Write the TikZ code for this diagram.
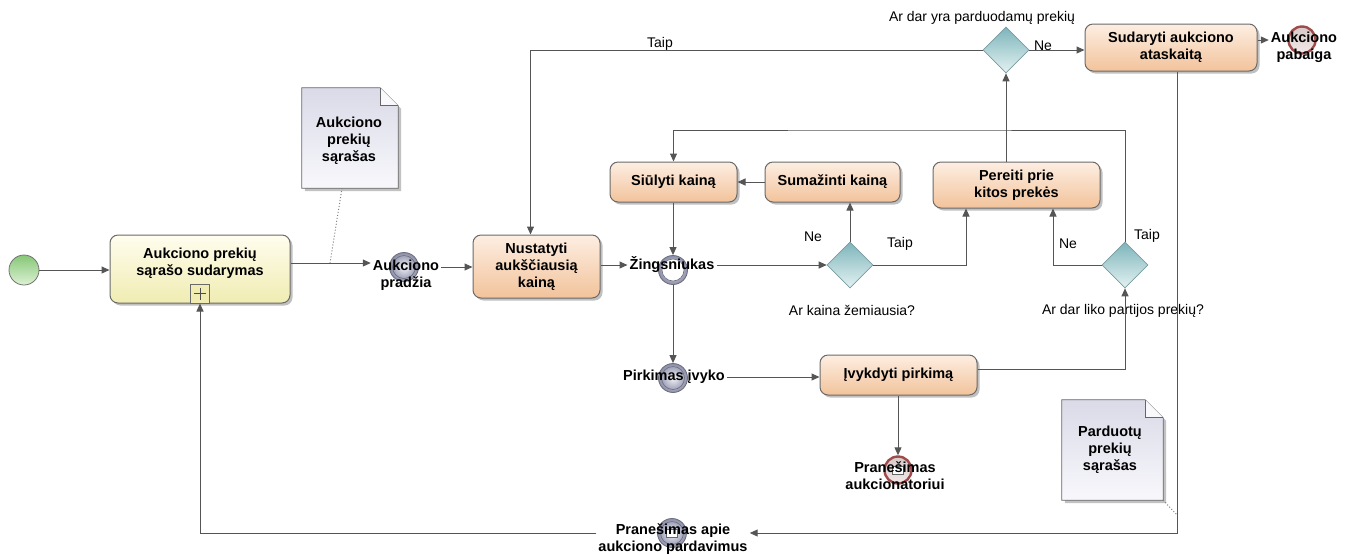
\documentclass[tikz,border=0pt]{standalone}
\usepackage{fontspec}
\setmainfont{Liberation Sans}
\usetikzlibrary{shapes.geometric,shadows,arrows.meta}

\definecolor{edge}{HTML}{555555}
\definecolor{taskborder}{HTML}{6A6A6A}
\definecolor{tasktop}{HTML}{FDEEE2}
\definecolor{taskbot}{HTML}{F2C39B}
\definecolor{subtop}{HTML}{FFFDEE}
\definecolor{subbot}{HTML}{F0ECB2}
\definecolor{gwtop}{HTML}{7DB5BB}
\definecolor{gwbot}{HTML}{E4F2F2}
\definecolor{gwborder}{HTML}{7A9A9E}
\definecolor{evtin}{HTML}{F2F2F8}
\definecolor{evtout}{HTML}{8A8EA8}
\definecolor{evtborder}{HTML}{6C6C7C}
\definecolor{endborder}{HTML}{A04B4B}
\definecolor{endtop}{HTML}{D9C9C9}
\definecolor{endbot}{HTML}{F2E8E8}
\definecolor{starttop}{HTML}{86C777}
\definecolor{startbot}{HTML}{DDF1D4}
\definecolor{notetop}{HTML}{DADAE8}
\definecolor{notebot}{HTML}{F8F8FC}

% folded-corner outline of a note node
\newcommand\notepath[1]{(#1.north west) -- ([xshift=-18pt]#1.north east)
  -- ([yshift=-18pt]#1.north east) -- (#1.south east) -- (#1.south west) -- cycle}
\newcommand\notefold[1]{([xshift=-18pt]#1.north east) -- ([xshift=-18pt,yshift=-18pt]#1.north east)
  -- ([yshift=-18pt]#1.north east)}

\begin{document}
\begin{tikzpicture}[x=1pt,y=-1pt,
  boldtext/.style={font=\fontsize{14.5}{17}\selectfont\bfseries},
  task/.style={rectangle, rounded corners=8pt, draw=taskborder, line width=1pt,
    top color=tasktop, bottom color=taskbot, boldtext, align=center, inner sep=0pt,
    drop shadow={shadow xshift=2.5pt, shadow yshift=-2.5pt, fill=black!45, opacity=0.55}},
  subtask/.style={task, top color=subtop, bottom color=subbot},
  gateway/.style={diamond, aspect=1, inner sep=0pt, minimum width=46pt, minimum height=46pt,
    draw=gwborder, line width=0.6pt, top color=gwtop, bottom color=gwbot},
  startev/.style={circle, inner sep=0pt, minimum size=30pt, draw=black!55, line width=0.8pt,
    top color=starttop, bottom color=startbot},
  midev/.style={circle, inner sep=0pt, minimum size=29pt, draw=evtborder, line width=0.8pt,
    inner color=evtin, outer color=evtout},
  endev/.style={circle, inner sep=0pt, minimum size=27pt, draw=endborder, line width=2.4pt,
    top color=endtop, bottom color=endbot},
  evlabel/.style={boldtext, align=center, inner sep=2pt},
  txt/.style={font=\fontsize{14}{16}\selectfont, inner sep=0pt},
  notebox/.style={rectangle, inner sep=0pt, boldtext, align=center},
  flow/.style={draw=edge, line width=1pt, -{Triangle[length=8pt,width=7pt]}},
  assoc/.style={draw=black!50, line width=1pt, dotted},
  notestyle/.style={draw=black!60, line width=0.8pt, top color=notetop, bottom color=notebot,
    drop shadow={shadow xshift=3pt, shadow yshift=-3pt, fill=black!40, opacity=0.6}}
]
\useasboundingbox (0,0) rectangle (1355,558);

% ---------- tasks ----------
\node[subtask, minimum width=180pt, minimum height=68pt] (t1) at (200,269) {};
\node[boldtext, align=center] (t1text) at (200,263) {Aukciono prekių\\sąrašo sudarymas};
\node[draw=taskborder, line width=0.8pt, fill=subbot, minimum size=19pt, inner sep=0pt,
      anchor=south] (plus) at (t1.south) {};
\draw[black!70, line width=0.9pt] ([yshift=-4pt]plus.north) -- ([yshift=4pt]plus.south)
      ([xshift=4pt]plus.west) -- ([xshift=-4pt]plus.east);

\node[task, minimum width=127pt, minimum height=63pt] (t2) at (536.5,266.5)
  {Nustatyti\\aukščiausią\\kainą};
\node[task, minimum width=127pt, minimum height=40pt] (siul) at (673.5,182) {Siūlyti kainą};
\node[task, minimum width=135pt, minimum height=40pt] (sumaz) at (832.5,182) {Sumažinti kainą};
\node[task, minimum width=167pt, minimum height=46pt] (pereiti) at (1016.5,185)
  {Pereiti prie\\kitos prekės};
\node[task, minimum width=172pt, minimum height=47pt] (sud) at (1171,47.5)
  {Sudaryti aukciono\\ataskaitą};
\node[task, minimum width=157pt, minimum height=40pt] (ivyk) at (898.5,375) {Įvykdyti pirkimą};

% ---------- gateways ----------
\node[gateway] (gw1) at (850,265) {};
\node[gateway] (gw2) at (1125,265) {};
\node[gateway] (gw3) at (1006,50) {};
\node[txt] (q1) at (852,310) {Ar kaina žemiausia?};
\node[txt] (q2) at (1123,311) {Ar dar liko partijos prekių?};
\node[txt] (q3) at (982,18) {Ar dar yra parduodamų prekių};

% ---------- events ----------
\node[startev] (start) at (24,270) {};

\node[midev] (prad) at (404,267) {};
\draw[evtborder, line width=0.6pt] (prad) circle (11.5pt);
\node[midev] (zing) at (673,270) {};
\node[circle, draw=evtborder, fill=white, line width=0.6pt, minimum size=22pt, inner sep=0pt]
  (zingclock) at (zing) {};
\node[midev] (pirk) at (673,378) {};
\draw[evtborder, line width=0.6pt] (pirk) circle (11.5pt);
\node[midev] (msg) at (672,533) {};
\draw[evtborder, line width=0.6pt] (msg) circle (11.5pt);
\node[draw=black!60, fill=white, minimum width=11pt, minimum height=8pt, inner sep=0pt]
  (msgicon) at (msg) {};
\node[endev] (end1) at (1302,40) {};
\node[endev] (end2) at (898,470) {};
\node[draw=black!60, fill=white, minimum width=11pt, minimum height=8pt, inner sep=0pt]
  (endicon) at (end2) {};

\node[evlabel] (pradl) at (406,275) {Aukciono\\pradžia};
\node[evlabel] (zingl) at (672,265) {Žingsniukas};
\node[evlabel] (pirkl) at (674,377) {Pirkimas įvyko};
\node[evlabel] (end1l) at (1304,47) {Aukciono\\pabaiga};
\node[evlabel] (end2l) at (895,476) {Pranešimas\\aukcionatoriui};
\node[evlabel] (msgl) at (673,539) {Pranešimas apie\\aukciono pardavimus};

% ---------- notes ----------
\node[notebox, minimum width=96pt, minimum height=100pt] (n1) at (350,138) {};
\draw[notestyle] \notepath{n1};
\draw[black!60, line width=0.8pt, fill=white!85!notetop] \notefold{n1};
\node[boldtext, align=center] (n1text) at (349,141) {Aukciono\\prekių\\sąrašas};

\node[notebox, minimum width=101pt, minimum height=100pt] (n2) at (1112.5,450) {};
\draw[notestyle] \notepath{n2};
\draw[black!60, line width=0.8pt, fill=white!85!notetop] \notefold{n2};
\node[boldtext, align=center] (n2text) at (1110,450) {Parduotų\\prekių\\sąrašas};

% ---------- junction points ----------
\coordinate (j1) at (330,263);
\coordinate (j2) at (1177,515);
\coordinate (k1) at (966,265);
\coordinate (k2) at (1053,265);
\coordinate (k3) at (900,130);

% ---------- sequence flows ----------
\draw[flow] (start) -- (t1.west |- start);
\draw[flow] (t1.east |- j1) -- (pradl.west |- j1);
\draw[flow] (pradl.east |- prad) -- (t2.west |- prad);
\draw[flow] (t2.east |- zingl) -- (zingl.west);
\draw[flow] (siul.south -| zing) -- (zing.north);
\draw[flow] (zingl.east) -- (gw1.west);
\draw[flow] (gw1.north) -- (gw1.north |- sumaz.south);
\draw[flow] (sumaz.west) -- (siul.east);
\draw[flow] (gw1.east) -| (k1 |- pereiti.south);
\draw[flow] (gw2.west) -| (k2 |- pereiti.south);
\draw[flow] (gw2.north) |- (k3) -| (siul.north);
\draw[flow] (pereiti.north -| gw3) -- (gw3.south);
\draw[flow] (gw3.west) -| ([xshift=-6pt]t2.north);
\draw[flow] (gw3.east) -- (sud.west |- gw3);
\draw[flow] (sud.east |- end1) -- (end1l.west |- end1);
\draw[flow] (zing.south) -- (pirk.north);
\draw[flow] (pirkl.east) -- (ivyk.west |- pirkl);
\draw[flow] ([yshift=6pt]ivyk.east) -| (gw2.south);
\draw[flow] (ivyk.south -| end2) -- (end2.north);
\draw[flow] ([xshift=6pt]sud.south) |- (msgl.east |- msg);
\draw[flow] (msgl.west |- msg) -| (t1.south);

% ---------- associations ----------
\draw[assoc] ([xshift=-8pt]n1.south) -- (j1);
\draw[assoc] (n2.south east) -- (j2);

% ---------- flow labels ----------
\node[txt] (lne1) at (813,237) {Ne};
\node[txt] (ltaip1) at (900,244) {Taip};
\node[txt] (lne2) at (1068,244) {Ne};
\node[txt] (ltaip2) at (1147,236) {Taip};
\node[txt] (ltaip3) at (660,44) {Taip};
\node[txt] (lne3) at (1043,46) {Ne};
\end{tikzpicture}
\end{document}
